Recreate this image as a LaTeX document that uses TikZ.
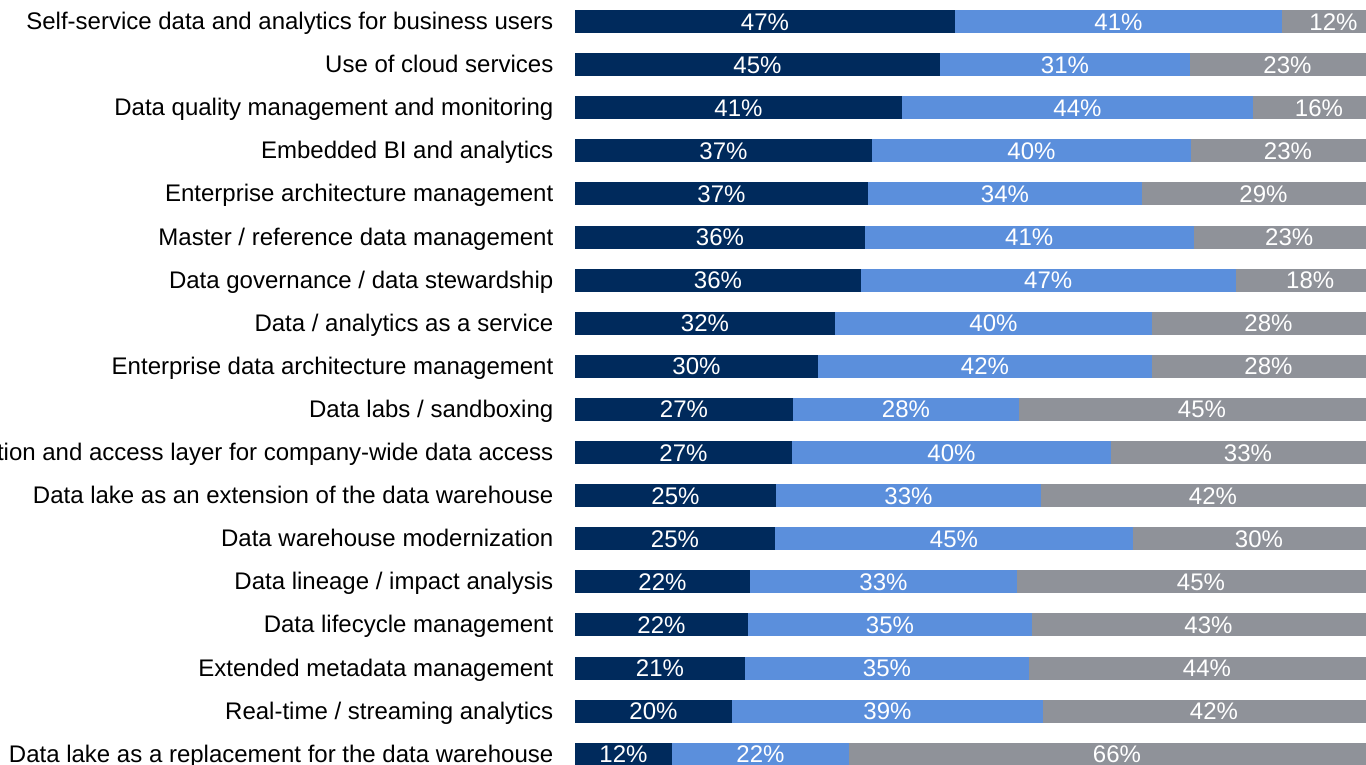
\documentclass[tikz,border=0pt]{standalone}
\usepackage{fontspec}
\setmainfont{Liberation Sans}
\definecolor{cnavy}{RGB}{0,42,92}
\definecolor{cblue}{RGB}{91,143,220}
\definecolor{cgray}{RGB}{143,146,153}
\begin{document}
\begin{tikzpicture}[x=1pt,y=-1pt,
  rowlabel/.style={anchor=base east, inner sep=0pt, font=\fontsize{24}{28}\selectfont},
  pctlabel/.style={anchor=base, inner sep=0pt, text=white, font=\fontsize{24}{28}\selectfont}]
\useasboundingbox (0,0) rectangle (1366,764);
\foreach \lab/\a/\b/\p/\q/\r [count=\i] in {
  {Self-service data and analytics for business users}/955/1282/47/41/12,
  {Use of cloud services}/940/1190/45/31/23,
  {Data quality management and monitoring}/902/1253/41/44/16,
  {Embedded BI and analytics}/872/1191/37/40/23,
  {Enterprise architecture management}/868/1142/37/34/29,
  {Master / reference data management}/865/1193.5/36/41/23,
  {Data governance / data stewardship}/861/1235.5/36/47/18,
  {Data / analytics as a service}/835/1152/32/40/28,
  {Enterprise data architecture management}/818/1152/30/42/28,
  {Data labs / sandboxing}/793/1019/27/28/45,
  {ation and access layer for company-wide data access}/792/1111/27/40/33,
  {Data lake as an extension of the data warehouse}/776/1041/25/33/42,
  {Data warehouse modernization}/775/1133/25/45/30,
  {Data lineage / impact analysis}/750/1017/22/33/45,
  {Data lifecycle management}/748/1032/22/35/43,
  {Extended metadata management}/745/1029/21/35/44,
  {Real-time / streaming analytics}/732/1043/20/39/42,
  {Data lake as a replacement for the data warehouse}/672/849/12/22/66}{
  \pgfmathsetmacro\yc{21.5+(\i-1)*43.1}
  \fill[cgray] (\b,\yc-11.5) rectangle (1385,\yc+11.5);
  \fill[cblue] (\a,\yc-11.5) rectangle (\b,\yc+11.5);
  \fill[cnavy] (575,\yc-11.5) rectangle (\a,\yc+11.5);
  \node[rowlabel] (lab\i) at (553.5,\yc+8) {\lab};
  \node[pctlabel] (pa\i) at ({(575+\a)/2},\yc+8.5) {\p\%};
  \node[pctlabel] (pb\i) at ({(\a+\b)/2},\yc+8.5) {\q\%};
  \node[pctlabel] (pc\i) at ({(\b+1385)/2},\yc+8.5) {\r\%};
}
\end{tikzpicture}
\end{document}
